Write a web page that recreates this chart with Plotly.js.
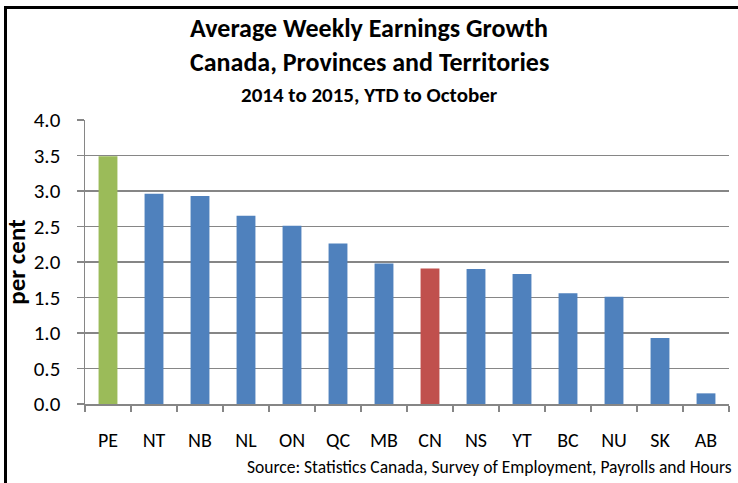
<!DOCTYPE html>
<html>
<head>
<meta charset="utf-8">
<script src="https://cdn.plot.ly/plotly-3.0.1.min.js"></script>
<style>
  html, body { margin: 0; padding: 0; background: #fff; }
  #wrap { position: relative; width: 738px; height: 483px; overflow: hidden; }
  #frame { position: absolute; left: 4px; top: 6px; width: 760px; height: 500px;
           border-left: 3px solid #000; border-top: 3px solid #000; pointer-events: none; z-index: 5; }
  #chart { position: absolute; left: 0; top: 0; width: 738px; height: 483px; }
</style>
</head>
<body>
<div id="wrap">
  <div id="chart"></div>
  <div id="frame"></div>
</div>
<script>
// Data
const categories = ["PE", "NT", "NB", "NL", "ON", "QC", "MB", "CN", "NS", "YT", "BC", "NU", "SK", "AB"];
const growth = [3.49, 2.96, 2.93, 2.65, 2.51, 2.26, 1.98, 1.91, 1.90, 1.83, 1.56, 1.51, 0.93, 0.15];
const yTickValues = [0, 0.5, 1, 1.5, 2, 2.5, 3, 3.5, 4];
const yTickLabels = ["0.0", "0.5", "1.0", "1.5", "2.0", "2.5", "3.0", "3.5", "4.0"];

const FONT = 'Carlito, Calibri, "Liberation Sans Narrow", "Open Sans", sans-serif';
const BLUE = '#4F81BD', GREEN = '#9BBB59', RED = '#C0504D';
const barColors = categories.map(c => c === 'PE' ? GREEN : (c === 'CN' ? RED : BLUE));

const trace = {
  type: 'bar',
  x: categories,
  y: growth,
  marker: { color: barColors, line: { width: 0 } },
  width: 0.41,
  hoverinfo: 'x+y'
};

const layout = {
  width: 738, height: 483,
  margin: { l: 85, r: 9, t: 120, b: 79, pad: 0 },
  paper_bgcolor: '#ffffff', plot_bgcolor: '#ffffff',
  font: { family: FONT, size: 20, color: '#000' },
  showlegend: false,
  title: {
    text: '<b>Average Weekly Earnings Growth</b>',
    font: { family: FONT, size: 26, color: '#000' },
    xref: 'container', yref: 'container', x: 0.5, y: 1 - 28 / 483,
    xanchor: 'center', yanchor: 'middle'
  },
  xaxis: {
    type: 'category',
    showgrid: false,
    showline: true, linecolor: '#868686', linewidth: 1.5,
    ticks: 'outside', tickson: 'boundaries', ticklen: 6, tickcolor: '#868686', tickwidth: 1.5,
    ticklabelstandoff: 17,
    tickfont: { family: FONT, size: 20, color: '#000' },
    fixedrange: true
  },
  yaxis: {
    range: [0, 4],
    tickvals: yTickValues, ticktext: yTickLabels,
    showgrid: true, gridcolor: '#868686', gridwidth: 1.5,
    showline: true, linecolor: '#868686', linewidth: 1.5,
    ticks: 'outside', ticklen: 7, tickcolor: '#868686', tickwidth: 1.5,
    ticklabelstandoff: 12,
    tickfont: { family: FONT, size: 21, color: '#000' },
    zeroline: false,
    title: { text: '<b>per cent</b>', font: { family: FONT, size: 25, color: '#000' }, standoff: 1 },
    automargin: false,
    fixedrange: true
  },
  annotations: [
    { text: '<b>Canada, Provinces and Territories</b>', xref: 'paper', yref: 'paper',
      x: (369 - 85) / 644, y: (404 - 62) / 284, xanchor: 'center', yanchor: 'middle',
      showarrow: false, font: { family: FONT, size: 26, color: '#000' } },
    { text: '<b>2014 to 2015, YTD to October</b>', xref: 'paper', yref: 'paper',
      x: (369 - 85) / 644, y: (404 - 95) / 284, xanchor: 'center', yanchor: 'middle',
      showarrow: false, font: { family: FONT, size: 21, color: '#000' } },
    { text: 'Source: Statistics Canada, Survey of Employment, Payrolls and Hours', xref: 'paper', yref: 'paper',
      x: (734 - 85) / 644, y: (404 - 467) / 284, xanchor: 'right', yanchor: 'middle',
      showarrow: false, font: { family: FONT, size: 17.5, color: '#000' } }
  ]
};

Plotly.newPlot('chart', [trace], layout, { displayModeBar: false, staticPlot: true });
</script>
</body>
</html>
